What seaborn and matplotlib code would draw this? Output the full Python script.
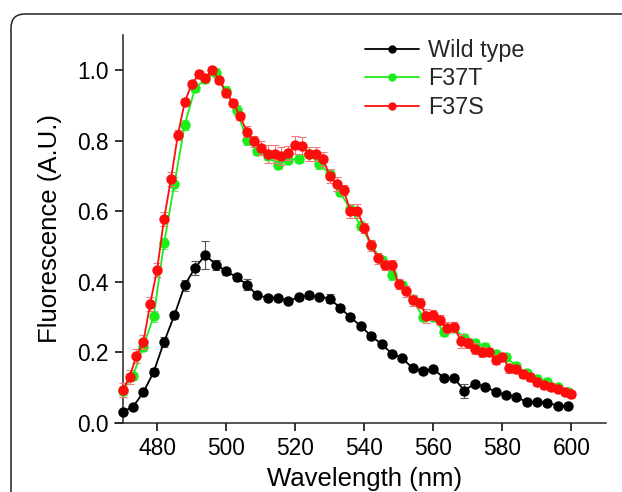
import matplotlib
matplotlib.use("Agg")
import matplotlib.pyplot as plt
import seaborn as sns
import pandas as pd
from matplotlib.patches import FancyBboxPatch
from matplotlib.transforms import IdentityTransform

# ---------------- data ----------------
wl_3nm = [470, 473, 476, 479, 482, 485, 488, 491, 494, 497, 500, 503, 506, 509, 512,
          515, 518, 521, 524, 527, 530, 533, 536, 539, 542, 545, 548, 551, 554, 557,
          560, 563, 566, 569, 572, 575, 578, 581, 584, 587, 590, 593, 596, 599]
wl_2nm = [470, 472, 474, 476, 478, 480, 482, 484, 486, 488, 490, 492, 494, 496, 498,
          500, 502, 504, 506, 508, 510, 512, 514, 516, 518, 520, 522, 524, 526, 528,
          530, 532, 534, 536, 538, 540, 542, 544, 546, 548, 550, 552, 554, 556, 558,
          560, 562, 564, 566, 568, 570, 572, 574, 576, 578, 580, 582, 584, 586, 588,
          590, 592, 594, 596, 598, 600]

wild_type = [0.031, 0.045, 0.086, 0.144, 0.229, 0.305, 0.390, 0.440, 0.476, 0.448,
             0.430, 0.413, 0.392, 0.361, 0.355, 0.355, 0.345, 0.356, 0.361, 0.358,
             0.352, 0.326, 0.299, 0.274, 0.246, 0.223, 0.196, 0.184, 0.154, 0.146,
             0.152, 0.128, 0.126, 0.091, 0.111, 0.102, 0.088, 0.078, 0.074, 0.058,
             0.060, 0.057, 0.048, 0.048]
wild_type_err = [0.005, 0.005, 0.006, 0.010, 0.015, 0.010, 0.015, 0.020, 0.040, 0.015,
                 0.010, 0.010, 0.015, 0.008, 0.008, 0.008, 0.008, 0.008, 0.010, 0.008,
                 0.012, 0.008, 0.008, 0.008, 0.008, 0.008, 0.008, 0.008, 0.008, 0.008,
                 0.008, 0.008, 0.008, 0.020, 0.008, 0.006, 0.006, 0.006, 0.006, 0.006,
                 0.006, 0.006, 0.006, 0.006]

f37t = [0.090, 0.133, 0.216, 0.302, 0.509, 0.677, 0.845, 0.950, 0.975, 0.993,
        0.940, 0.887, 0.803, 0.771, 0.757, 0.732, 0.746, 0.748, 0.762, 0.734,
        0.705, 0.654, 0.605, 0.559, 0.505, 0.462, 0.418, 0.390, 0.350, 0.300,
        0.300, 0.257, 0.268, 0.240, 0.226, 0.215, 0.195, 0.187, 0.160, 0.140,
        0.125, 0.116, 0.100, 0.088]
f37t_err = [0.012, 0.012, 0.012, 0.015, 0.015, 0.020, 0.015, 0.012, 0.012, 0.012,
            0.015, 0.015, 0.015, 0.012, 0.012, 0.012, 0.012, 0.012, 0.012, 0.015,
            0.012, 0.012, 0.012, 0.012, 0.012, 0.012, 0.012, 0.012, 0.012, 0.012,
            0.012, 0.012, 0.012, 0.012, 0.012, 0.012, 0.012, 0.012, 0.010, 0.010,
            0.010, 0.010, 0.010, 0.010]

f37s = [0.092, 0.130, 0.189, 0.229, 0.338, 0.434, 0.578, 0.691, 0.816, 0.910,
        0.960, 0.988, 0.979, 1.000, 0.972, 0.935, 0.908, 0.870, 0.826, 0.798,
        0.779, 0.762, 0.762, 0.757, 0.764, 0.788, 0.786, 0.762, 0.762, 0.748,
        0.701, 0.677, 0.660, 0.600, 0.600, 0.553, 0.503, 0.466, 0.447, 0.447,
        0.393, 0.373, 0.347, 0.340, 0.303, 0.305, 0.291, 0.270, 0.272, 0.232,
        0.226, 0.210, 0.201, 0.201, 0.179, 0.187, 0.154, 0.152, 0.138, 0.130,
        0.116, 0.107, 0.100, 0.097, 0.088, 0.081]
f37s_err = [0.020, 0.020, 0.020, 0.020, 0.020, 0.020, 0.020, 0.020, 0.015, 0.010,
            0.010, 0.010, 0.010, 0.008, 0.010, 0.010, 0.010, 0.010, 0.015, 0.015,
            0.020, 0.025, 0.025, 0.025, 0.020, 0.025, 0.025, 0.020, 0.020, 0.020,
            0.020, 0.020, 0.015, 0.020, 0.020, 0.015, 0.015, 0.015, 0.015, 0.015,
            0.015, 0.015, 0.015, 0.015, 0.020, 0.015, 0.015, 0.015, 0.015, 0.020,
            0.015, 0.015, 0.015, 0.012, 0.012, 0.012, 0.012, 0.012, 0.012, 0.012,
            0.012, 0.012, 0.010, 0.010, 0.010, 0.010]

series_labels = ["Wild type", "F37T", "F37S"]
x_ticks = [480, 500, 520, 540, 560, 580, 600]
y_ticks = [0.0, 0.2, 0.4, 0.6, 0.8, 1.0]

# ---------------- style ----------------
sns.set_theme(style="ticks")
plt.rcParams["font.family"] = ["Liberation Sans", "DejaVu Sans"]
plt.rcParams["axes.linewidth"] = 1.1

fig = plt.figure(figsize=(6.22, 4.92), dpi=100)
ax = fig.add_axes([115 / 622, 69.3 / 492, 491 / 622, 387.7 / 492])

df_wt = pd.DataFrame({"nm": wl_3nm, "val": wild_type})
df_t = pd.DataFrame({"nm": wl_3nm, "val": f37t})
df_s = pd.DataFrame({"nm": wl_2nm, "val": f37s})

ax.errorbar(wl_3nm, wild_type, yerr=wild_type_err, fmt="none", ecolor="#555555",
            elinewidth=0.8, capsize=3, capthick=0.8, zorder=2)
sns.lineplot(data=df_wt, x="nm", y="val", ax=ax, color="black", marker="o",
             markersize=7.5, markeredgewidth=0, linewidth=1.3, label=series_labels[0],
             zorder=3)

ax.errorbar(wl_3nm, f37t, yerr=f37t_err, fmt="none", ecolor="#7ee07e",
            elinewidth=0.8, capsize=3, capthick=0.8, zorder=4)
sns.lineplot(data=df_t, x="nm", y="val", ax=ax, color="#1aee1a", marker="o",
             markersize=7.5, markeredgewidth=0, linewidth=1.3, label=series_labels[1],
             zorder=5)

ax.errorbar(wl_2nm, f37s, yerr=f37s_err, fmt="none", ecolor="#f07a7a",
            elinewidth=0.8, capsize=3, capthick=0.8, zorder=6)
sns.lineplot(data=df_s, x="nm", y="val", ax=ax, color="#ff0d0d", marker="o",
             markersize=7.5, markeredgewidth=0, linewidth=1.3, label=series_labels[2],
             zorder=7)

ax.set_xlim(467.8, 610)
ax.set_ylim(0, 1.1)
ax.spines["left"].set_position(("data", 470))
ax.spines["top"].set_visible(False)
ax.spines["right"].set_visible(False)
ax.set_xticks(x_ticks)
ax.set_yticks(y_ticks)
ax.set_yticklabels([f"{v:.1f}" for v in y_ticks])
ax.tick_params(axis="both", direction="out", length=6, width=1.1,
               labelsize=16.4, colors="black", pad=4)

ax.set_xlabel("Wavelength (nm)", fontsize=18.5, color="black")
ax.set_ylabel("Fluorescence (A.U.)", fontsize=18.5, color="black")
ax.xaxis.set_label_coords((364.5 - 115) / 491, -0.115)
ax.yaxis.set_label_coords((62 - 115) / 491, 0.5)

leg = ax.legend(loc="upper left", bbox_to_anchor=(0.509, 0.99), frameon=False,
                fontsize=16.8, handlelength=2.3, handletextpad=0.4,
                labelspacing=0.24, borderpad=0, borderaxespad=0)
for h in leg.legend_handles:
    h.set_markersize(6)

frame = FancyBboxPatch((11, -40), 700, 478 + 40,
                       boxstyle="round,pad=0,rounding_size=14",
                       transform=IdentityTransform(), fill=False,
                       edgecolor="#222222", linewidth=1.1)
fig.add_artist(frame)

fig.savefig("out.png", dpi=100)
